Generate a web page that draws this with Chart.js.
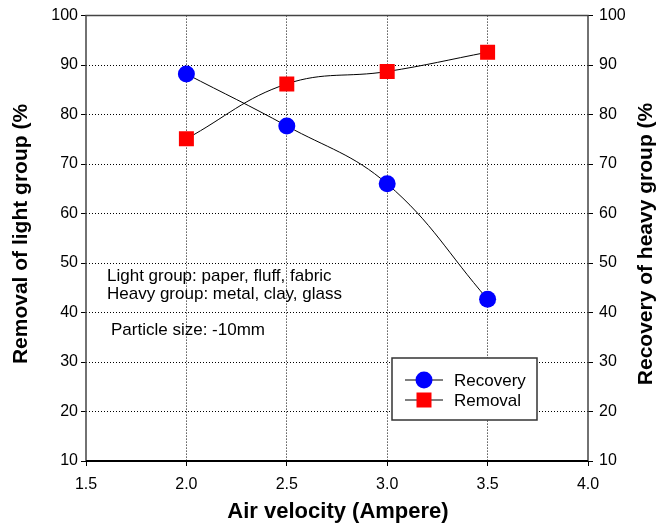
<!DOCTYPE html>
<html>
<head>
<meta charset="utf-8">
<title>Air velocity chart</title>
<script src="https://cdn.jsdelivr.net/npm/chart.js@4.4.1/dist/chart.umd.min.js"></script>
<style>
  html, body { margin: 0; padding: 0; background: #fff; }
  #wrap { width: 659px; height: 529px; position: relative; }
</style>
</head>
<body>
<div id="wrap"><canvas id="chart"></canvas></div>
<script>
// data
const airVelocity = [2.0, 2.5, 3.0, 3.5];
const recoveryHeavy = [88.2, 77.7, 66.0, 42.7];
const removalLight = [75.1, 86.2, 88.7, 92.6];
const xTicks = [1.5, 2.0, 2.5, 3.0, 3.5, 4.0];
const yTicks = [10, 20, 30, 40, 50, 60, 70, 80, 90, 100];
const notes = ['Light group: paper, fluff, fabric', 'Heavy group: metal, clay, glass', 'Particle size: -10mm'];

const FONT = "'Liberation Sans', Arial, sans-serif";

// hide the grid line that sits on the frame
const innerGrid = (ticks) => (ctx) => {
    const v = ctx.tick ? ctx.tick.value : null;
    return (v === ticks[0] || v === ticks[ticks.length - 1]) ? 'rgba(0,0,0,0)' : '#000';
};

const framePlugin = {
    id: 'frame',
    afterDraw(chart) {
        const { ctx, chartArea: a } = chart;
        ctx.save();

        // frame
        ctx.lineWidth = 1.5;
        ctx.strokeStyle = '#444';
        ctx.beginPath();
        ctx.moveTo(a.left, a.bottom); ctx.lineTo(a.left, a.top);
        ctx.lineTo(a.right, a.top); ctx.lineTo(a.right, a.bottom);
        ctx.stroke();
        ctx.strokeStyle = '#000';
        ctx.lineWidth = 2;
        ctx.beginPath();
        ctx.moveTo(a.left, a.bottom); ctx.lineTo(a.right, a.bottom);
        ctx.stroke();

        // axis titles
        ctx.fillStyle = '#000';
        ctx.textAlign = 'center';
        ctx.textBaseline = 'middle';
        ctx.font = 'bold 22px ' + FONT;
        ctx.fillText('Air velocity (Ampere)', 338, 512);
        ctx.font = 'bold 21px ' + FONT;
        ctx.save();
        ctx.translate(21, 234);
        ctx.rotate(-Math.PI / 2);
        ctx.fillText('Removal of light group (%', 0, 0);
        ctx.restore();
        ctx.save();
        ctx.translate(646, 244);
        ctx.rotate(-Math.PI / 2);
        ctx.fillText('Recovery of heavy group (%', 0, 0);
        ctx.restore();

        // notes
        ctx.textAlign = 'left';
        ctx.font = '17px ' + FONT;
        ctx.fillText(notes[0], 107, 276);
        ctx.fillText(notes[1], 107, 294);
        ctx.fillText(notes[2], 111, 330);

        // legend
        ctx.fillStyle = '#fff';
        ctx.fillRect(392, 358, 145, 62);
        ctx.strokeStyle = '#333';
        ctx.lineWidth = 1.5;
        ctx.strokeRect(392, 358, 145, 62);
        chart.data.datasets.forEach((ds, i) => {
            const y = 380 + i * 20;
            ctx.strokeStyle = '#000';
            ctx.lineWidth = 1;
            ctx.beginPath();
            ctx.moveTo(405, y); ctx.lineTo(443, y);
            ctx.stroke();
            ctx.fillStyle = ds.pointBackgroundColor;
            if (ds.pointStyle === 'rect') {
                ctx.fillRect(424 - 7.5, y - 7.5, 15, 15);
            } else {
                ctx.beginPath();
                ctx.arc(424, y, 8.5, 0, Math.PI * 2);
                ctx.fill();
            }
            ctx.fillStyle = '#000';
            ctx.fillText(ds.label, 454, y + 1);
        });

        ctx.restore();
    }
};

new Chart(document.getElementById('chart'), {
    type: 'line',
    data: {
        datasets: [{
            label: 'Recovery',
            data: airVelocity.map((x, i) => ({ x, y: recoveryHeavy[i] })),
            yAxisID: 'y2',
            borderColor: '#000',
            borderWidth: 1,
            tension: 0.4,
            pointStyle: 'circle',
            pointRadius: 8.5,
            pointHoverRadius: 8.5,
            pointBorderWidth: 0,
            pointBackgroundColor: '#0000ff'
        }, {
            label: 'Removal',
            data: airVelocity.map((x, i) => ({ x, y: removalLight[i] })),
            yAxisID: 'y',
            borderColor: '#000',
            borderWidth: 1,
            tension: 0.4,
            pointStyle: 'rect',
            pointRadius: 10.6,
            pointHoverRadius: 10.6,
            pointBorderWidth: 0,
            pointBackgroundColor: '#ff0000'
        }]
    },
    options: {
        responsive: true,
        maintainAspectRatio: false,
        animation: false,
        layout: { padding: { top: 12, left: 0, right: 0, bottom: 0 } },
        plugins: {
            legend: { display: false },
            tooltip: { enabled: false }
        },
        scales: {
            x: {
                type: 'linear',
                min: 1.5,
                max: 4.0,
                afterBuildTicks: (s) => { s.ticks = xTicks.map(v => ({ value: v })); },
                afterFit: (s) => { s.height = 68; },
                ticks: {
                    color: '#000',
                    padding: 9,
                    maxRotation: 0,
                    font: { family: FONT, size: 16 },
                    callback: (v) => v.toFixed(1)
                },
                border: { display: false, dash: [1, 2] },
                grid: {
                    color: innerGrid(xTicks),
                    lineWidth: 1,
                    tickLength: 5,
                    tickColor: '#000',
                    tickBorderDash: []
                }
            },
            y: {
                position: 'left',
                min: 10,
                max: 100,
                afterBuildTicks: (s) => { s.ticks = yTicks.map(v => ({ value: v })); },
                afterFit: (s) => { s.width = 86; },
                ticks: {
                    color: '#000',
                    padding: 3,
                    font: { family: FONT, size: 16 }
                },
                border: { display: false, dash: [1, 2] },
                grid: {
                    color: innerGrid(yTicks),
                    lineWidth: 1,
                    tickLength: 5,
                    tickColor: '#000',
                    tickBorderDash: []
                }
            },
            y2: {
                position: 'right',
                min: 10,
                max: 100,
                afterBuildTicks: (s) => { s.ticks = yTicks.map(v => ({ value: v })); },
                afterFit: (s) => { s.width = 71; },
                ticks: {
                    color: '#000',
                    padding: 6,
                    font: { family: FONT, size: 16 }
                },
                border: { display: false },
                grid: {
                    drawOnChartArea: false,
                    tickLength: 5,
                    tickColor: '#000'
                }
            }
        }
    },
    plugins: [framePlugin]
});
</script>
</body>
</html>
